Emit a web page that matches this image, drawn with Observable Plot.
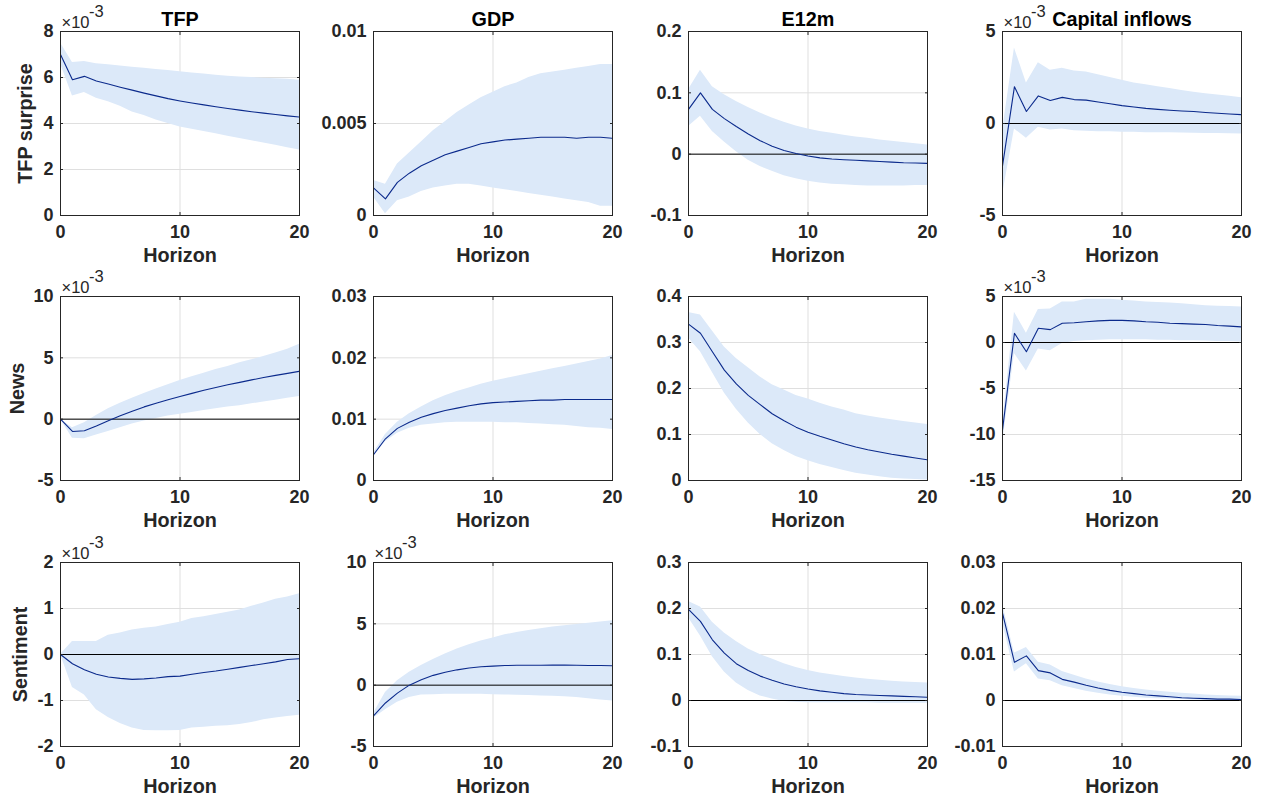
<!DOCTYPE html>
<html>
<head>
<meta charset="utf-8">
<script src="https://cdn.jsdelivr.net/npm/d3@7"></script>
<script src="https://cdn.jsdelivr.net/npm/@observablehq/plot@0.6"></script>
<style>
html, body { margin: 0; padding: 0; background: #fff; }
#fig { position: relative; width: 1263px; height: 803px; overflow: hidden; background: #fff; }
#fig svg { position: absolute; }
</style>
</head>
<body>
<div id="fig"></div>
<script>
// ---------- categories / labels ----------
const horizon = [0,1,2,3,4,5,6,7,8,9,10,11,12,13,14,15,16,17,18,19,20];
const shockNames = ["TFP surprise", "News", "Sentiment"];
const variableNames = ["TFP", "GDP", "E12m", "Capital inflows"];
const xTicks = [0, 10, 20];
const xTickLabels = ["0", "10", "20"];
const xLabel = "Horizon";

// ---------- row 1: TFP surprise ----------
// TFP (x10^-3)
const tfpS_TFP_med = [7.00,5.90,6.05,5.85,5.72,5.58,5.45,5.32,5.20,5.08,4.98,4.89,4.81,4.73,4.65,4.58,4.51,4.45,4.39,4.33,4.28];
const tfpS_TFP_hi  = [7.50,6.65,6.70,6.60,6.55,6.50,6.45,6.40,6.35,6.30,6.25,6.20,6.15,6.10,6.05,6.02,6.00,5.97,5.95,5.92,5.88];
const tfpS_TFP_lo  = [6.60,5.20,5.35,5.10,4.95,4.75,4.50,4.35,4.15,4.00,3.85,3.75,3.65,3.55,3.45,3.35,3.25,3.15,3.05,2.95,2.85];
const tfpS_TFP_ticks = [0,2,4,6,8];
const tfpS_TFP_tickLabels = ["0","2","4","6","8"];
// GDP
const tfpS_GDP_med = [0.0015,0.0009,0.0018,0.0023,0.0027,0.0030,0.0033,0.0035,0.0037,0.0039,0.0040,0.0041,0.00415,0.0042,0.00425,0.00425,0.00425,0.0042,0.00425,0.00425,0.0042];
const tfpS_GDP_hi  = [0.0019,0.0017,0.0028,0.0034,0.0040,0.0046,0.0051,0.0056,0.0060,0.0064,0.0067,0.0070,0.0072,0.0075,0.0077,0.0078,0.0079,0.0080,0.0081,0.0082,0.0082];
const tfpS_GDP_lo  = [0.0010,0.0001,0.0008,0.0010,0.0013,0.0015,0.0016,0.0017,0.0017,0.0016,0.0015,0.0014,0.0013,0.0012,0.0011,0.0010,0.0009,0.0008,0.0007,0.0005,0.0005];
const tfpS_GDP_ticks = [0,0.005,0.01];
const tfpS_GDP_tickLabels = ["0","0.005","0.01"];
// E12m
const tfpS_E12m_med = [0.073,0.100,0.073,0.058,0.045,0.033,0.022,0.013,0.006,0.001,-0.003,-0.006,-0.008,-0.009,-0.010,-0.011,-0.012,-0.013,-0.014,-0.0145,-0.015];
const tfpS_E12m_hi  = [0.105,0.137,0.110,0.097,0.086,0.076,0.067,0.059,0.052,0.046,0.041,0.037,0.034,0.031,0.028,0.026,0.023,0.021,0.019,0.017,0.015];
const tfpS_E12m_lo  = [0.045,0.062,0.037,0.020,0.004,-0.010,-0.020,-0.028,-0.035,-0.040,-0.044,-0.047,-0.049,-0.050,-0.051,-0.052,-0.052,-0.052,-0.052,-0.051,-0.051];
const tfpS_E12m_ticks = [-0.1,0,0.1,0.2];
const tfpS_E12m_tickLabels = ["-0.1","0","0.1","0.2"];
// Capital inflows (x10^-3)
const tfpS_Cap_med = [-2.3,2.0,0.65,1.5,1.25,1.42,1.3,1.27,1.17,1.07,0.97,0.9,0.82,0.77,0.72,0.68,0.65,0.6,0.56,0.52,0.48];
const tfpS_Cap_hi  = [-0.4,4.1,2.2,3.3,2.9,3.0,2.85,2.8,2.65,2.5,2.35,2.2,2.1,2.0,1.9,1.8,1.7,1.62,1.55,1.48,1.4];
const tfpS_Cap_lo  = [-3.9,-0.3,-0.8,-0.2,-0.35,-0.3,-0.4,-0.42,-0.45,-0.45,-0.47,-0.48,-0.5,-0.5,-0.5,-0.52,-0.53,-0.54,-0.55,-0.56,-0.57];
const tfpS_Cap_ticks = [-5,0,5];
const tfpS_Cap_tickLabels = ["-5","0","5"];

// ---------- row 2: News ----------
// TFP (x10^-3)
const news_TFP_med = [0,-1.0,-0.95,-0.55,-0.12,0.28,0.65,1.0,1.3,1.58,1.85,2.1,2.35,2.58,2.8,3.0,3.2,3.4,3.57,3.73,3.9];
const news_TFP_hi  = [0,-0.7,-0.3,0.3,0.85,1.3,1.7,2.1,2.45,2.8,3.15,3.45,3.75,4.05,4.3,4.6,4.85,5.1,5.4,5.7,6.1];
const news_TFP_lo  = [0,-1.55,-1.6,-1.3,-1.0,-0.7,-0.4,-0.15,0.05,0.25,0.4,0.55,0.7,0.85,1.0,1.1,1.25,1.4,1.55,1.7,1.85];
const news_TFP_ticks = [-5,0,5,10];
const news_TFP_tickLabels = ["-5","0","5","10"];
// GDP
const news_GDP_med = [0.0042,0.0068,0.0085,0.0095,0.0103,0.0109,0.0114,0.0118,0.0122,0.0125,0.0127,0.0128,0.0129,0.0130,0.0131,0.0131,0.0132,0.0132,0.0132,0.0132,0.0132];
const news_GDP_hi  = [0.0045,0.0075,0.0095,0.0109,0.0120,0.0130,0.0138,0.0145,0.0151,0.0157,0.0162,0.0166,0.0170,0.0174,0.0178,0.0182,0.0186,0.0190,0.0194,0.0198,0.0204];
const news_GDP_lo  = [0.0040,0.0063,0.0077,0.0085,0.0090,0.0092,0.0094,0.0095,0.0095,0.0095,0.0095,0.0094,0.0094,0.0093,0.0092,0.0091,0.0090,0.0088,0.0086,0.0085,0.0083];
const news_GDP_ticks = [0,0.01,0.02,0.03];
const news_GDP_tickLabels = ["0","0.01","0.02","0.03"];
// E12m
const news_E12m_med = [0.34,0.32,0.28,0.24,0.21,0.185,0.165,0.145,0.13,0.116,0.105,0.096,0.088,0.08,0.073,0.067,0.062,0.057,0.053,0.049,0.045];
const news_E12m_hi  = [0.365,0.36,0.325,0.29,0.265,0.245,0.225,0.208,0.197,0.185,0.177,0.168,0.16,0.153,0.145,0.14,0.136,0.132,0.128,0.125,0.122];
const news_E12m_lo  = [0.31,0.28,0.235,0.19,0.155,0.125,0.1,0.08,0.065,0.052,0.043,0.035,0.028,0.022,0.016,0.012,0.008,0.005,0.003,0.002,0.001];
const news_E12m_ticks = [0,0.1,0.2,0.3,0.4];
const news_E12m_tickLabels = ["0","0.1","0.2","0.3","0.4"];
// Capital inflows (x10^-3)
const news_Cap_med = [-9.5,1.0,-1.0,1.55,1.4,2.1,2.15,2.25,2.35,2.4,2.4,2.35,2.25,2.2,2.1,2.05,2.0,1.95,1.85,1.78,1.7];
const news_Cap_hi  = [-9.0,3.3,1.0,3.6,3.65,4.4,4.4,4.7,4.7,4.7,4.6,4.5,4.4,4.35,4.3,4.2,4.1,4.0,3.95,3.9,3.85];
const news_Cap_lo  = [-11.0,-1.2,-3.1,-0.7,-0.9,-0.1,0.1,0.2,0.25,0.3,0.3,0.3,0.3,0.25,0.25,0.2,0.2,0.15,0.12,0.1,0.05];
const news_Cap_ticks = [-15,-10,-5,0,5];
const news_Cap_tickLabels = ["-15","-10","-5","0","5"];

// ---------- row 3: Sentiment ----------
// TFP (x10^-3)
const sent_TFP_med = [0,-0.2,-0.33,-0.43,-0.49,-0.52,-0.54,-0.53,-0.51,-0.48,-0.47,-0.43,-0.39,-0.36,-0.32,-0.28,-0.24,-0.2,-0.16,-0.11,-0.09];
const sent_TFP_hi  = [0,0.28,0.28,0.28,0.42,0.47,0.53,0.57,0.6,0.65,0.7,0.78,0.82,0.87,0.92,0.97,1.05,1.12,1.2,1.25,1.32];
const sent_TFP_lo  = [0,-0.72,-0.88,-1.2,-1.37,-1.5,-1.6,-1.65,-1.66,-1.66,-1.65,-1.6,-1.58,-1.56,-1.55,-1.52,-1.48,-1.42,-1.38,-1.35,-1.32];
const sent_TFP_ticks = [-2,-1,0,1,2];
const sent_TFP_tickLabels = ["-2","-1","0","1","2"];
// GDP (x10^-3)
const sent_GDP_med = [-2.5,-1.45,-0.65,0.0,0.45,0.8,1.05,1.25,1.4,1.5,1.55,1.6,1.62,1.62,1.62,1.63,1.63,1.62,1.6,1.6,1.58];
const sent_GDP_hi  = [-2.3,-0.6,0.35,1.05,1.6,2.1,2.55,2.95,3.3,3.6,3.85,4.1,4.3,4.45,4.6,4.75,4.85,4.95,5.05,5.15,5.25];
const sent_GDP_lo  = [-2.7,-2.0,-1.4,-1.0,-0.8,-0.78,-0.75,-0.75,-0.75,-0.75,-0.78,-0.8,-0.82,-0.85,-0.88,-0.9,-0.95,-1.0,-1.1,-1.2,-1.3];
const sent_GDP_ticks = [-5,0,5,10];
const sent_GDP_tickLabels = ["-5","0","5","10"];
// E12m
const sent_E12m_med = [0.198,0.172,0.132,0.103,0.08,0.065,0.053,0.044,0.036,0.03,0.025,0.021,0.018,0.015,0.013,0.012,0.011,0.01,0.009,0.008,0.007];
const sent_E12m_hi  = [0.215,0.203,0.17,0.147,0.128,0.112,0.1,0.09,0.08,0.072,0.065,0.06,0.056,0.052,0.049,0.046,0.044,0.042,0.04,0.039,0.038];
const sent_E12m_lo  = [0.18,0.14,0.095,0.062,0.038,0.022,0.01,0.003,-0.002,-0.004,-0.005,-0.005,-0.005,-0.005,-0.005,-0.005,-0.006,-0.006,-0.006,-0.006,-0.006];
const sent_E12m_ticks = [-0.1,0,0.1,0.2,0.3];
const sent_E12m_tickLabels = ["-0.1","0","0.1","0.2","0.3"];
// Capital inflows
const sent_Cap_med = [0.019,0.0083,0.0097,0.0065,0.006,0.0046,0.004,0.0033,0.0027,0.0022,0.0018,0.0015,0.0012,0.001,0.0008,0.0006,0.0005,0.0004,0.0003,0.0003,0.0002];
const sent_Cap_hi  = [0.021,0.0103,0.0115,0.0083,0.0077,0.0063,0.0055,0.0047,0.004,0.0035,0.003,0.0026,0.0023,0.002,0.0018,0.0016,0.0014,0.0012,0.0011,0.001,0.0009];
const sent_Cap_lo  = [0.017,0.0062,0.008,0.0047,0.0043,0.0032,0.0026,0.002,0.0016,0.0012,0.0009,0.0007,0.0005,0.0004,0.0003,0.0002,0.0001,0,0,0,0];
const sent_Cap_ticks = [-0.01,0,0.01,0.02,0.03];
const sent_Cap_tickLabels = ["-0.01","0","0.01","0.02","0.03"];

// which panels show the "x10^-3" exponent
const exponentPanels = [[true,false,false,true],[true,false,false,true],[true,true,false,false]];

// ---------- assemble panel table ----------
const panels = [
  [
    {med: tfpS_TFP_med, lo: tfpS_TFP_lo, hi: tfpS_TFP_hi, ticks: tfpS_TFP_ticks, labels: tfpS_TFP_tickLabels},
    {med: tfpS_GDP_med, lo: tfpS_GDP_lo, hi: tfpS_GDP_hi, ticks: tfpS_GDP_ticks, labels: tfpS_GDP_tickLabels},
    {med: tfpS_E12m_med, lo: tfpS_E12m_lo, hi: tfpS_E12m_hi, ticks: tfpS_E12m_ticks, labels: tfpS_E12m_tickLabels},
    {med: tfpS_Cap_med, lo: tfpS_Cap_lo, hi: tfpS_Cap_hi, ticks: tfpS_Cap_ticks, labels: tfpS_Cap_tickLabels}
  ],
  [
    {med: news_TFP_med, lo: news_TFP_lo, hi: news_TFP_hi, ticks: news_TFP_ticks, labels: news_TFP_tickLabels},
    {med: news_GDP_med, lo: news_GDP_lo, hi: news_GDP_hi, ticks: news_GDP_ticks, labels: news_GDP_tickLabels},
    {med: news_E12m_med, lo: news_E12m_lo, hi: news_E12m_hi, ticks: news_E12m_ticks, labels: news_E12m_tickLabels},
    {med: news_Cap_med, lo: news_Cap_lo, hi: news_Cap_hi, ticks: news_Cap_ticks, labels: news_Cap_tickLabels}
  ],
  [
    {med: sent_TFP_med, lo: sent_TFP_lo, hi: sent_TFP_hi, ticks: sent_TFP_ticks, labels: sent_TFP_tickLabels},
    {med: sent_GDP_med, lo: sent_GDP_lo, hi: sent_GDP_hi, ticks: sent_GDP_ticks, labels: sent_GDP_tickLabels},
    {med: sent_E12m_med, lo: sent_E12m_lo, hi: sent_E12m_hi, ticks: sent_E12m_ticks, labels: sent_E12m_tickLabels},
    {med: sent_Cap_med, lo: sent_Cap_lo, hi: sent_Cap_hi, ticks: sent_Cap_ticks, labels: sent_Cap_tickLabels}
  ]
];

// ---------- layout & style ----------
const FONT = "'Liberation Sans', Arial, Helvetica, sans-serif";
const AX = "#262626", GRID = "#dfdfdf", BAND = "#dce9f9", LINE = "#0b2a8c";
const colLeft = [60, 373, 688, 1002];
const rowTop = [31, 296, 562];
const PW = 239, PH = 184;
const ML = 70, MT = 40, MR = 20, MB = 60;
const rowLabelDx = [-34.5, -43, -40];

const fig = document.getElementById("fig");

for (let r = 0; r < 3; r++) {
  for (let c = 0; c < 4; c++) {
    const p = panels[r][c];
    const data = horizon.map((h, i) => ({h, med: p.med[i], lo: p.lo[i], hi: p.hi[i]}));
    const yFmt = d => p.labels[p.ticks.indexOf(d)];
    const xFmt = d => xTickLabels[xTicks.indexOf(d)];
    const blank = () => "";
    const marks = [
      Plot.gridY(p.ticks, {stroke: GRID, strokeOpacity: 1}),
      Plot.gridX(xTicks, {stroke: GRID, strokeOpacity: 1}),
      Plot.areaY(data, {x: "h", y1: "lo", y2: "hi", fill: BAND, clip: true}),
      Plot.ruleY([0], {stroke: "#000", strokeWidth: 1}),
      Plot.lineY(data, {x: "h", y: "med", stroke: LINE, strokeWidth: 1.1, clip: true}),
      Plot.frame({stroke: AX, strokeWidth: 1}),
      Plot.axisY(p.ticks, {anchor: "left", tickSize: -3, tickPadding: 10, tickFormat: yFmt,
        fontSize: 18, fontWeight: "bold", label: null}),
      Plot.axisY(p.ticks, {anchor: "right", tickSize: -3, tickFormat: blank, label: null}),
      Plot.axisX(xTicks, {anchor: "bottom", tickSize: -3, tickPadding: 12.5, tickFormat: xFmt,
        fontSize: 18, fontWeight: "bold", label: null}),
      Plot.axisX(xTicks, {anchor: "top", tickSize: -3, tickFormat: blank, label: null}),
      Plot.text([xLabel], {frameAnchor: "bottom", textAnchor: "middle", lineAnchor: "top", dy: 32.5,
        fontSize: 19.8, fontWeight: "bold", fill: AX})
    ];
    if (r === 0) {
      marks.push(Plot.text([variableNames[c]], {frameAnchor: "top", textAnchor: "middle", lineAnchor: "top", dy: -19.5,
        fontSize: 19.8, fontWeight: "bold", fill: "#000"}));
    }
    if (c === 0) {
      marks.push(Plot.text([shockNames[r]], {frameAnchor: "left", textAnchor: "middle", lineAnchor: "middle",
        rotate: -90, dx: rowLabelDx[r], fontSize: 19.8, fontWeight: "bold", fill: AX}));
    }
    if (exponentPanels[r][c]) {
      marks.push(Plot.text(["\u00d710"], {frameAnchor: "top-left", textAnchor: "start", lineAnchor: "bottom",
        dx: 1, dy: -4, fontSize: 16.5, fill: AX}));
      marks.push(Plot.text(["-3"], {frameAnchor: "top-left", textAnchor: "start", lineAnchor: "bottom",
        dx: 28.5, dy: -15, fontSize: 16.5, fill: AX}));
    }
    const svg = Plot.plot({
      width: ML + PW + MR,
      height: MT + PH + MB,
      marginLeft: ML, marginRight: MR, marginTop: MT, marginBottom: MB,
      x: {domain: [0, 20], nice: false},
      y: {domain: [p.ticks[0], p.ticks[p.ticks.length - 1]], nice: false},
      marks
    });
    svg.style.position = "absolute";
    svg.style.left = (colLeft[c] - ML) + "px";
    svg.style.top = (rowTop[r] - MT) + "px";
    svg.style.background = "transparent";
    svg.style.overflow = "visible";
    svg.style.maxWidth = "none";
    svg.style.fontFamily = FONT;
    svg.style.color = AX;
    fig.appendChild(svg);
  }
}
</script>
</body>
</html>
